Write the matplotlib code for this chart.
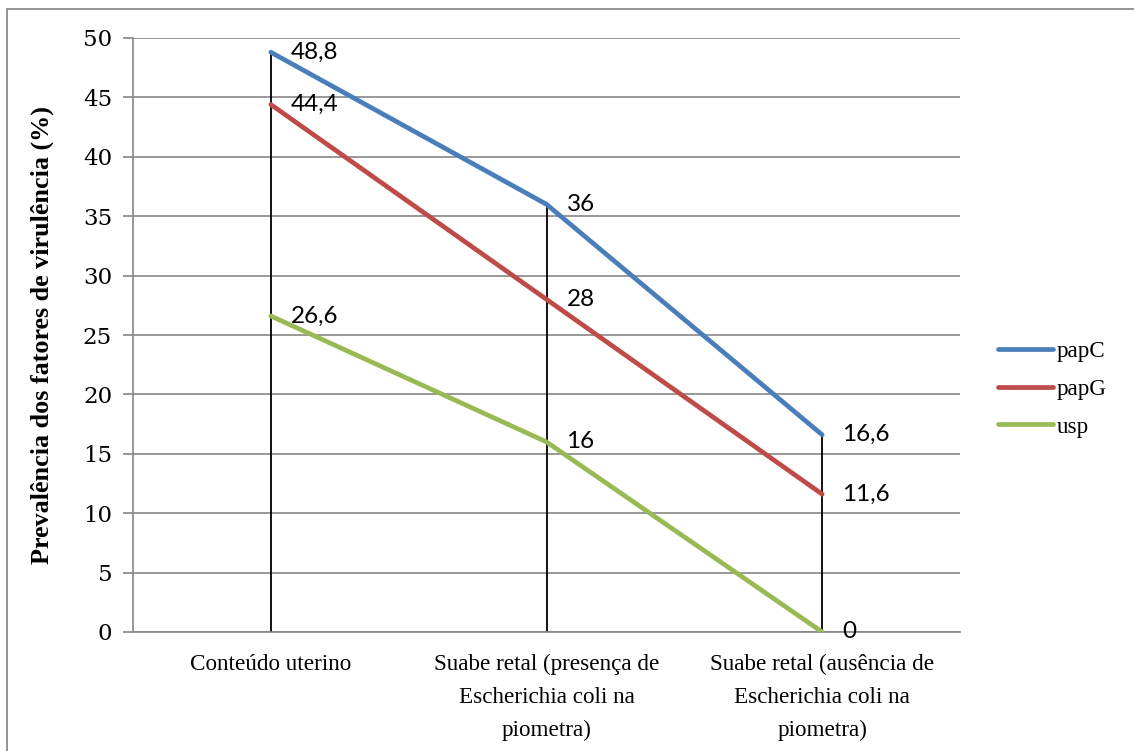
import matplotlib
matplotlib.use('Agg')
import matplotlib.pyplot as plt
from matplotlib.patches import Rectangle

categories = [
    'Conteúdo uterino',
    'Suabe retal (presença de\nEscherichia coli na\npiometra)',
    'Suabe retal (ausência de\nEscherichia coli na\npiometra)',
]
series_names = ['papC', 'papG', 'usp']
papC = [48.8, 36, 16.6]
papG = [44.4, 28, 11.6]
usp = [26.6, 16, 0]
value_labels = {
    'papC': ['48,8', '36', '16,6'],
    'papG': ['44,4', '28', '11,6'],
    'usp': ['26,6', '16', '0'],
}
colors = {'papC': '#4A7EBB', 'papG': '#BE4B48', 'usp': '#98B954'}
y_ticks = list(range(0, 55, 5))

SERIF = 'Liberation Serif'
NUMS = 'DejaVu Serif'
LABELS = 'Lato'

fig = plt.figure(figsize=(11.34, 7.51), dpi=100)
ax = fig.add_axes([133 / 1134, 1 - 632 / 751, 827 / 1134, 594 / 751])

# outer chart frame
fig.patches.append(Rectangle((7 / 1134, -0.02), 1.1, 1 - 9 / 751 + 0.02,
                             transform=fig.transFigure, fill=False,
                             edgecolor='#8c8c8c', linewidth=1.3))

x = list(range(len(categories)))
data = {'papC': papC, 'papG': papG, 'usp': usp}

# high-low drop lines
for i in x:
    top = max(data[n][i] for n in series_names)
    ax.plot([i, i], [0, top], color='black', linewidth=1.3, zorder=2)

for name in series_names:
    ax.plot(x, data[name], color=colors[name], linewidth=3.4,
            solid_capstyle='round', label=name, zorder=3)
    for i, v in enumerate(data[name]):
        ax.annotate(value_labels[name][i], (i, v), xytext=(20, 0),
                    textcoords='offset pixels', va='center', ha='left',
                    fontsize=17.5, family=LABELS, zorder=4)

ax.set_xlim(-0.5, 2.5)
ax.set_ylim(0, 50)
ax.set_yticks(y_ticks)
ax.set_yticklabels([str(t) for t in y_ticks], fontsize=16.5, family=NUMS)
ax.set_xticks(x)
ax.set_xticklabels(categories, fontsize=16.7, family=SERIF, linespacing=1.72)
ax.tick_params(axis='x', length=0, pad=16)
ax.tick_params(axis='y', length=7, width=1.2, color='#868686', pad=8)
ax.grid(axis='y', color='#868686', linewidth=1.2)
ax.set_axisbelow(True)
for side in ('top', 'right'):
    ax.spines[side].set_visible(False)
for side in ('left', 'bottom'):
    ax.spines[side].set_color('#868686')
    ax.spines[side].set_linewidth(1.2)

ax.set_ylabel('Prevalência dos fatores de virulência (%)', fontsize=18.8,
              family=SERIF, fontweight='bold', labelpad=21)

ax.legend(loc='center left', bbox_to_anchor=(998 / 1134, 1 - 389 / 751),
          bbox_transform=fig.transFigure, frameon=False, borderpad=0,
          borderaxespad=0, prop={'family': SERIF, 'size': 16.7},
          handlelength=2.37, handletextpad=0.17, labelspacing=0.72)

fig.savefig('out.png', dpi=100)
